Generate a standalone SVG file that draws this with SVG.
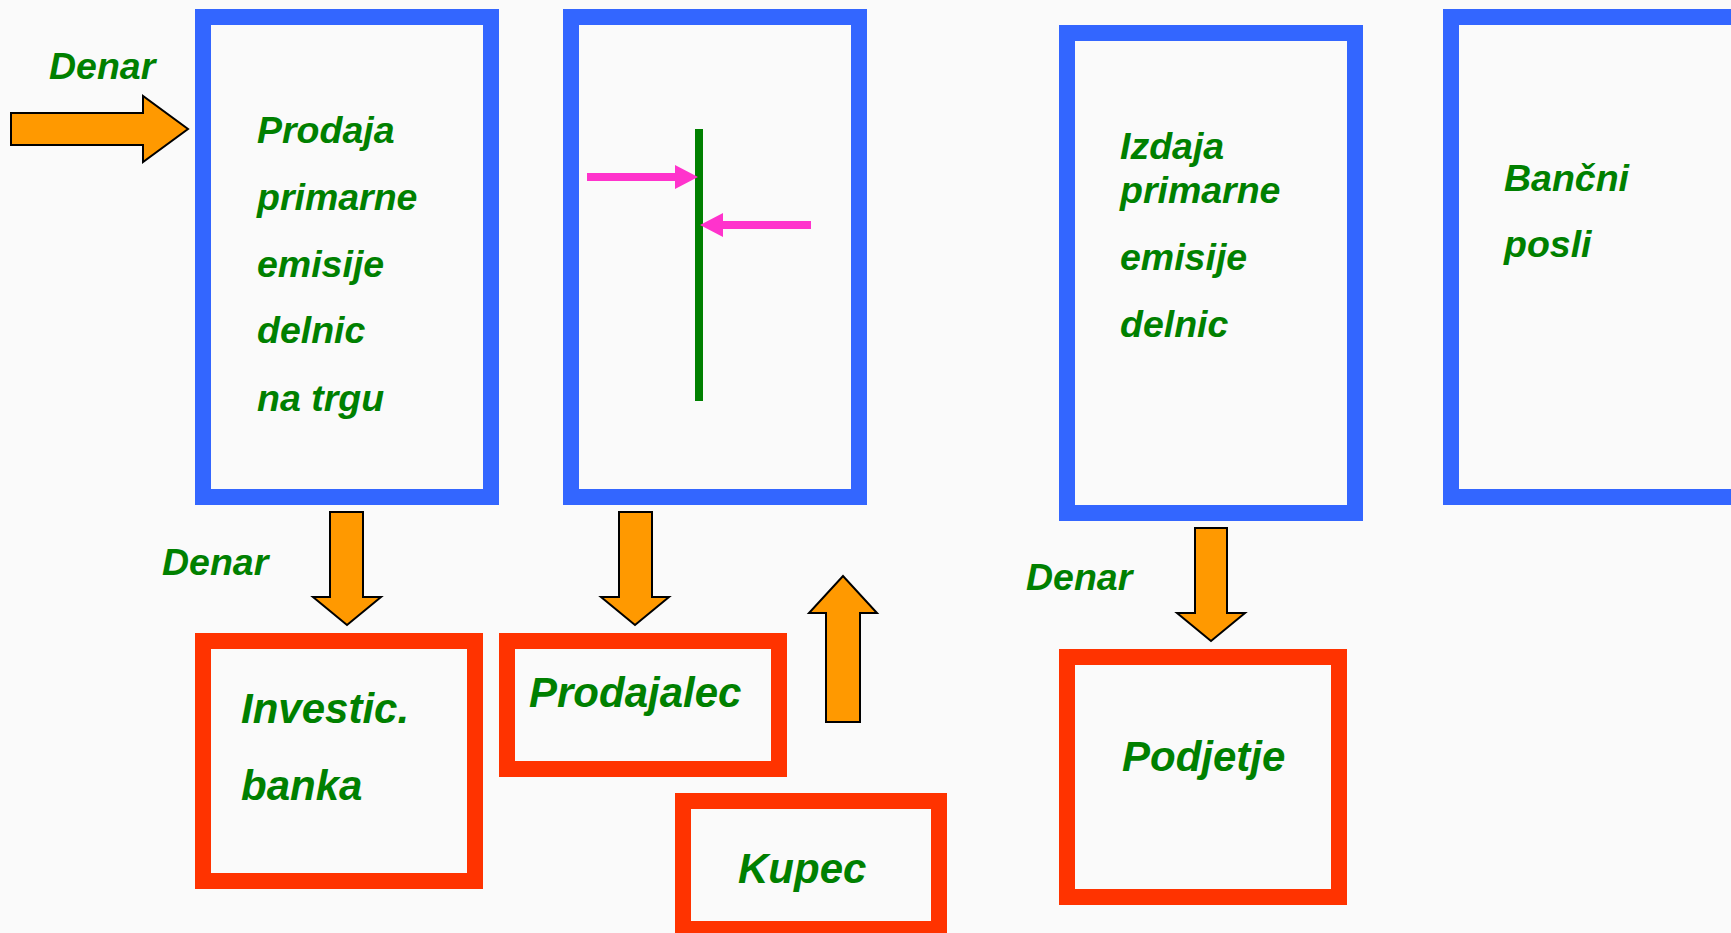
<svg xmlns="http://www.w3.org/2000/svg" width="1731" height="933" viewBox="0 0 1731 933">
<style>
.bg{fill:#FAFAFA}
.blue{fill:none;stroke:#3366FF;stroke-width:16}
.red{fill:none;stroke:#FF3300;stroke-width:16}
.arr{fill:#FF9900;stroke:#000;stroke-width:2;stroke-linejoin:miter}
.pink{fill:#FF33CC}
.t{font-family:"Liberation Sans",Arial,sans-serif;font-weight:bold;font-style:italic;fill:#008000;font-size:37.5px}
.t2{font-size:42px}
</style>
<rect class="bg" x="0" y="0" width="1731" height="933"/>
<g id="box-prodaja">
<rect class="blue" x="203" y="17" width="288" height="480"/>
<text class="t" x="257" y="143">Prodaja</text>
<text class="t" x="257" y="210">primarne</text>
<text class="t" x="257" y="277">emisije</text>
<text class="t" x="257" y="343">delnic</text>
<text class="t" x="257" y="411">na trgu</text>
</g>
<g id="box-market">
<rect class="blue" x="571" y="17" width="288" height="480"/>
<rect x="695" y="129" width="8" height="272" fill="#008000"/>
<path class="pink" d="M587 173H675V165L698 177L675 189V181H587Z"/>
<path class="pink" d="M811 221H723V213L700 225L723 237V229H811Z"/>
</g>
<g id="box-izdaja">
<rect class="blue" x="1067" y="33" width="288" height="480"/>
<text class="t" x="1120" y="159">Izdaja</text>
<text class="t" x="1120" y="203">primarne</text>
<text class="t" x="1120" y="270">emisije</text>
<text class="t" x="1120" y="337">delnic</text>
</g>
<g id="box-bancni">
<rect class="blue" x="1451" y="17" width="300" height="480"/>
<text class="t" x="1504" y="191">Bančni</text>
<text class="t" x="1504" y="257">posli</text>
</g>
<g id="box-banka">
<rect class="red" x="203" y="641" width="272" height="240"/>
<text class="t t2" x="241" y="723">Investic.</text>
<text class="t t2" x="241" y="800">banka</text>
</g>
<g id="box-prodajalec">
<rect class="red" x="507" y="641" width="272" height="128"/>
<text class="t t2" x="529" y="707">Prodajalec</text>
</g>
<g id="box-kupec">
<rect class="red" x="683" y="801" width="256" height="128"/>
<text class="t t2" x="738" y="883">Kupec</text>
</g>
<g id="box-podjetje">
<rect class="red" x="1067" y="657" width="272" height="240"/>
<text class="t t2" x="1122" y="771">Podjetje</text>
</g>
<g id="labels">
<text class="t" x="49" y="79">Denar</text>
<text class="t" x="162" y="575">Denar</text>
<text class="t" x="1026" y="590">Denar</text>
</g>
<g id="connectors">
<path class="arr" d="M11 113H143V96L188 129L143 162V145H11Z"/>
<path class="arr" d="M330 512H363V597H381L347 625L313 597H330Z"/>
<path class="arr" d="M619 512H652V597H669L635 625L601 597H619Z"/>
<path class="arr" d="M1195 528H1227V613H1245L1211 641L1177 613H1195Z"/>
<path class="arr" d="M826 722V613H809L843 576L877 613H860V722Z"/>
</g>
</svg>
